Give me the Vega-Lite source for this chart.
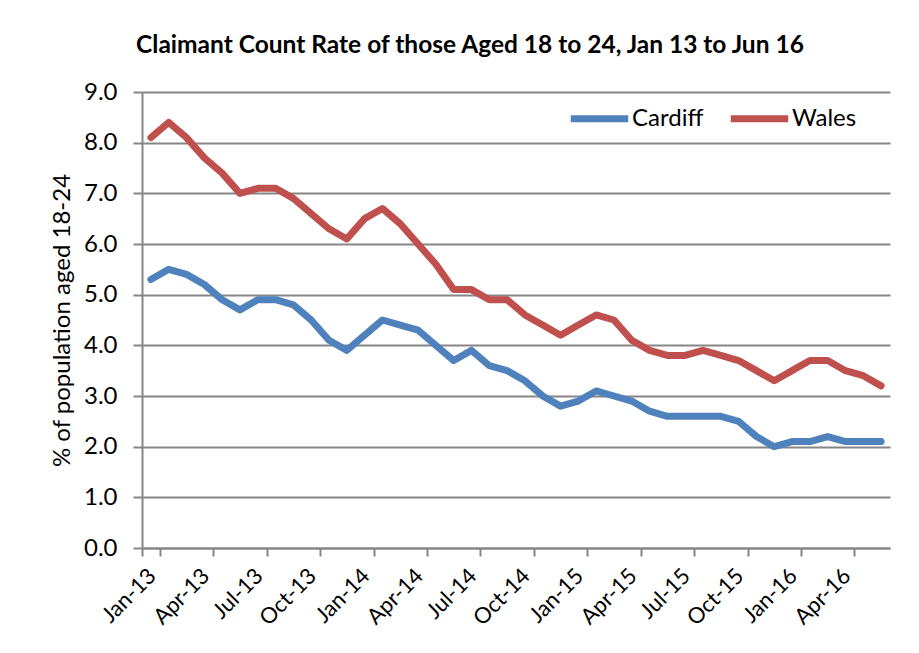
{
  "$schema": "https://vega.github.io/schema/vega-lite/v6.json",
  "width": 748,
  "height": 456,
  "autosize": {"type": "none"},
  "padding": {"left": 142, "top": 92, "right": 29, "bottom": 105},
  "background": "white",
  "title": {
    "text": "Claimant Count Rate of those Aged 18 to 24, Jan 13 to Jun 16",
    "font": "Lato",
    "fontSize": 24.5,
    "fontWeight": "bold",
    "color": "#000000",
    "anchor": "middle",
    "dx": -46,
    "offset": 22
  },
  "data": {
    "values": [
      {"month": "Jan-13", "Cardiff": 5.3, "Wales": 8.1},
      {"month": "Feb-13", "Cardiff": 5.5, "Wales": 8.4},
      {"month": "Mar-13", "Cardiff": 5.4, "Wales": 8.1},
      {"month": "Apr-13", "Cardiff": 5.2, "Wales": 7.7},
      {"month": "May-13", "Cardiff": 4.9, "Wales": 7.4},
      {"month": "Jun-13", "Cardiff": 4.7, "Wales": 7.0},
      {"month": "Jul-13", "Cardiff": 4.9, "Wales": 7.1},
      {"month": "Aug-13", "Cardiff": 4.9, "Wales": 7.1},
      {"month": "Sep-13", "Cardiff": 4.8, "Wales": 6.9},
      {"month": "Oct-13", "Cardiff": 4.5, "Wales": 6.6},
      {"month": "Nov-13", "Cardiff": 4.1, "Wales": 6.3},
      {"month": "Dec-13", "Cardiff": 3.9, "Wales": 6.1},
      {"month": "Jan-14", "Cardiff": 4.2, "Wales": 6.5},
      {"month": "Feb-14", "Cardiff": 4.5, "Wales": 6.7},
      {"month": "Mar-14", "Cardiff": 4.4, "Wales": 6.4},
      {"month": "Apr-14", "Cardiff": 4.3, "Wales": 6.0},
      {"month": "May-14", "Cardiff": 4.0, "Wales": 5.6},
      {"month": "Jun-14", "Cardiff": 3.7, "Wales": 5.1},
      {"month": "Jul-14", "Cardiff": 3.9, "Wales": 5.1},
      {"month": "Aug-14", "Cardiff": 3.6, "Wales": 4.9},
      {"month": "Sep-14", "Cardiff": 3.5, "Wales": 4.9},
      {"month": "Oct-14", "Cardiff": 3.3, "Wales": 4.6},
      {"month": "Nov-14", "Cardiff": 3.0, "Wales": 4.4},
      {"month": "Dec-14", "Cardiff": 2.8, "Wales": 4.2},
      {"month": "Jan-15", "Cardiff": 2.9, "Wales": 4.4},
      {"month": "Feb-15", "Cardiff": 3.1, "Wales": 4.6},
      {"month": "Mar-15", "Cardiff": 3.0, "Wales": 4.5},
      {"month": "Apr-15", "Cardiff": 2.9, "Wales": 4.1},
      {"month": "May-15", "Cardiff": 2.7, "Wales": 3.9},
      {"month": "Jun-15", "Cardiff": 2.6, "Wales": 3.8},
      {"month": "Jul-15", "Cardiff": 2.6, "Wales": 3.8},
      {"month": "Aug-15", "Cardiff": 2.6, "Wales": 3.9},
      {"month": "Sep-15", "Cardiff": 2.6, "Wales": 3.8},
      {"month": "Oct-15", "Cardiff": 2.5, "Wales": 3.7},
      {"month": "Nov-15", "Cardiff": 2.2, "Wales": 3.5},
      {"month": "Dec-15", "Cardiff": 2.0, "Wales": 3.3},
      {"month": "Jan-16", "Cardiff": 2.1, "Wales": 3.5},
      {"month": "Feb-16", "Cardiff": 2.1, "Wales": 3.7},
      {"month": "Mar-16", "Cardiff": 2.2, "Wales": 3.7},
      {"month": "Apr-16", "Cardiff": 2.1, "Wales": 3.5},
      {"month": "May-16", "Cardiff": 2.1, "Wales": 3.4},
      {"month": "Jun-16", "Cardiff": 2.1, "Wales": 3.2}
    ]
  },
  "transform": [
    {"fold": ["Cardiff", "Wales"], "as": ["series", "rate"]}
  ],
  "mark": {"type": "line", "strokeWidth": 7, "strokeCap": "round", "strokeJoin": "round"},
  "encoding": {
    "x": {
      "field": "month",
      "type": "ordinal",
      "sort": null,
      "bandPosition": 0.5,
      "scale": {"type": "band", "paddingInner": 0, "paddingOuter": 0},
      "axis": {
        "title": null,
        "values": ["Jan-13","Apr-13","Jul-13","Oct-13","Jan-14","Apr-14","Jul-14","Oct-14","Jan-15","Apr-15","Jul-15","Oct-15","Jan-16","Apr-16"],
        "tickBand": "extent",
        "labelAngle": -45,
        "labelAlign": "right",
        "labelBaseline": "middle",
        "labelFont": "Lato",
        "labelFontSize": 22,
        "labelColor": "#000000",
        "labelPadding": 16,
        "labelOffset": 1,
        "labelOverlap": false,
        "tickSize": 8,
        "tickColor": "#868686",
        "tickWidth": 2,
        "domainColor": "#868686",
        "domainWidth": 2,
        "grid": false
      }
    },
    "y": {
      "field": "rate",
      "type": "quantitative",
      "scale": {"domain": [0, 9], "nice": false},
      "axis": {
        "title": "% of population aged 18-24",
        "titleFont": "Lato",
        "titleFontSize": 24,
        "titleFontWeight": "normal",
        "titleColor": "#000000",
        "titlePadding": 9,
        "values": [0,1,2,3,4,5,6,7,8,9],
        "format": ".1f",
        "labelFont": "Lato",
        "labelFontSize": 24,
        "labelColor": "#000000",
        "labelPadding": 16,
        "tickSize": 9,
        "tickColor": "#868686",
        "tickWidth": 2,
        "domainColor": "#868686",
        "domainWidth": 2,
        "grid": true,
        "gridColor": "#868686",
        "gridWidth": 2,
        "gridOpacity": 1
      }
    },
    "color": {
      "field": "series",
      "type": "nominal",
      "scale": {"domain": ["Cardiff", "Wales"], "range": ["#4F81BD", "#C0504D"]},
      "legend": {
        "title": null,
        "orient": "none",
        "direction": "horizontal",
        "legendX": 425,
        "legendY": -6,
        "symbolType": "stroke",
        "symbolSize": 3300,
        "symbolStrokeWidth": 7,
        "labelFont": "Lato",
        "labelFontSize": 24,
        "labelColor": "#000000",
        "labelOffset": 0,
        "columnPadding": 12
      }
    }
  },
  "config": {
    "view": {"stroke": null}
  }
}
